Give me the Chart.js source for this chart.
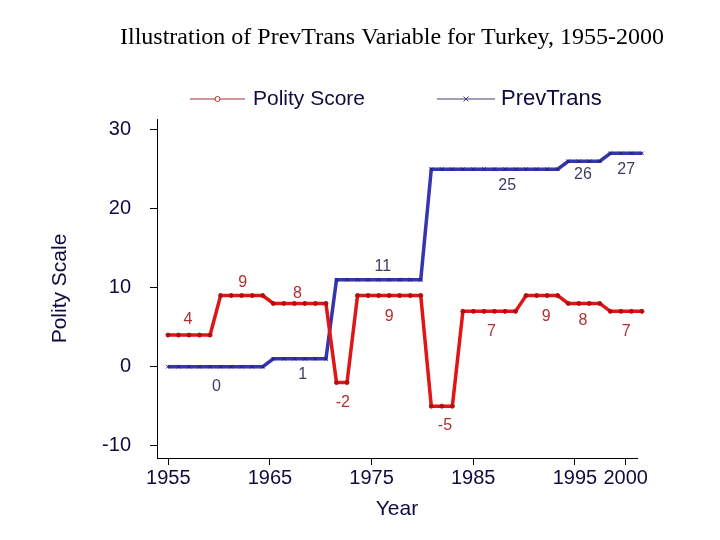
<!DOCTYPE html>
<html>
<head>
<meta charset="utf-8">
<script src="https://cdn.jsdelivr.net/npm/chart.js@4.4.1/dist/chart.umd.min.js"></script>
<style>
html,body{margin:0;padding:0;background:#fff;}
#wrap{width:720px;height:540px;}
</style>
</head>
<body>
<div id="wrap"><canvas id="c" width="720" height="540"></canvas></div>
<script>
// ---- data ----
const years = [1955,1956,1957,1958,1959,1960,1961,1962,1963,1964,1965,1966,1967,1968,1969,1970,
  1971,1972,1973,1974,1975,1976,1977,1978,1979,1980,1981,1982,1983,1984,1985,1986,1987,1988,
  1989,1990,1991,1992,1993,1994,1995,1996,1997,1998,1999,2000];
const polityScore = [4,4,4,4,4, 9,9,9,9,9, 8,8,8,8,8,8, -2,-2, 9,9,9,9,9,9,9, -5,-5,-5,
  7,7,7,7,7,7, 9,9,9,9, 8,8,8,8, 7,7,7,7];
const prevTrans = [0,0,0,0,0,0,0,0,0,0, 1,1,1,1,1,1, 11,11,11,11,11,11,11,11,11,
  25,25,25,25,25,25,25,25,25,25,25,25,25, 26,26,26,26, 27,27,27,27];
const xTickYears = [1955,1965,1975,1985,1995,2000];
const yTickValues = [-10,0,10,20,30];
const titleText = 'Illustration of PrevTrans Variable for Turkey, 1955-2000';
const seriesNames = ['Polity Score','PrevTrans'];
// value labels: [text, series index, year anchor, value anchor]
const valueLabels = [
  ['4',0,1956.9,5.9],['9',0,1962.1,10.6],['8',0,1967.3,9.2],['9',0,1976.0,6.3],
  ['-2',0,1971.6,-4.6],['-5',0,1981.3,-7.4],['7',0,1985.7,4.4],['9',0,1990.9,6.4],
  ['8',0,1994.4,5.8],['7',0,1998.5,4.4],
  ['0',1,1959.6,-2.5],['1',1,1967.8,-1.05],['11',1,1975.4,12.7],['25',1,1987.2,22.9],
  ['26',1,1994.4,24.3],['27',1,1998.5,24.9]
];

const RED = '#e01515', RED_DARK = '#b01010', RED_TXT = '#b03030';
const BLUE = '#3535b0', BLUE_DARK = '#202070', BLUE_TXT = '#3c3c66';
const NAVY = '#0c0c40';

const pts = (vals) => years.map((y,i)=>({x:y,y:vals[i]}));

const overlay = {
  id:'overlay',
  afterDraw(chart){
    const ctx = chart.ctx;
    const xs = chart.scales.xd, ys = chart.scales.y;
    ctx.save();
    // title
    ctx.fillStyle = '#000';
    ctx.font = '24px "Liberation Serif", "Times New Roman", serif';
    ctx.textAlign = 'center'; ctx.textBaseline = 'middle';
    ctx.fillText(titleText, 392, 38);
    // legend
    const items = [
      {x0:190,x1:245,tx:253,color:'#a83030',mark:'circle',name:seriesNames[0],size:21},
      {x0:437,x1:495,tx:501,color:'#40407a',mark:'cross',name:seriesNames[1],size:22}
    ];
    items.forEach(it=>{
      const y=99;
      ctx.strokeStyle=it.color; ctx.lineWidth=1;
      ctx.beginPath(); ctx.moveTo(it.x0,y); ctx.lineTo(it.x1,y); ctx.stroke();
      const mx=(it.x0+it.x1)/2;
      if(it.mark==='circle'){
        ctx.fillStyle='#fff'; ctx.beginPath(); ctx.arc(mx,y,2.5,0,Math.PI*2); ctx.fill(); ctx.stroke();
      } else {
        ctx.beginPath(); ctx.moveTo(mx-2.5,y-2.5); ctx.lineTo(mx+2.5,y+2.5);
        ctx.moveTo(mx-2.5,y+2.5); ctx.lineTo(mx+2.5,y-2.5); ctx.stroke();
      }
      ctx.fillStyle=NAVY; ctx.font=it.size+'px "Liberation Sans", Arial, sans-serif';
      ctx.textAlign='left'; ctx.textBaseline='middle';
      ctx.fillText(it.name, it.tx, y);
    });
    // value labels
    ctx.font='16px "Liberation Sans", Arial, sans-serif';
    ctx.textAlign='center'; ctx.textBaseline='middle';
    valueLabels.forEach(l=>{
      ctx.fillStyle = l[1]===0 ? RED_TXT : BLUE_TXT;
      ctx.fillText(l[0], xs.getPixelForValue(l[2]), ys.getPixelForValue(l[3]));
    });
    ctx.restore();
  }
};

new Chart(document.getElementById('c'), {
  type:'line',
  data:{
    datasets:[
      {label:seriesNames[0], data:pts(polityScore), xAxisID:'xd', yAxisID:'y',
       borderColor:RED, borderWidth:3.5, pointStyle:'circle', pointRadius:2,
       pointBackgroundColor:RED_DARK, pointBorderColor:RED_DARK, pointBorderWidth:1,
       tension:0, clip:false, order:1},
      {label:seriesNames[1], data:pts(prevTrans), xAxisID:'xd', yAxisID:'y',
       borderColor:BLUE, borderWidth:3.5, pointStyle:'crossRot', pointRadius:2.5,
       pointBorderColor:BLUE_DARK, pointBackgroundColor:BLUE_DARK, pointBorderWidth:1,
       tension:0, clip:false, order:2}
    ]
  },
  options:{
    responsive:false, animation:false,
    layout:{padding:{left:48,top:119,right:83,bottom:0}},
    plugins:{legend:{display:false}, title:{display:false}, tooltip:{enabled:false}},
    scales:{
      xd:{type:'linear', display:false, min:1953.96, max:1999.53},
      x:{type:'linear', position:'bottom', min:1953.89, max:2001.11,
         afterBuildTicks:(s)=>{s.ticks = xTickYears.map(v=>({value:v}));},
         afterFit:(s)=>{s.height = 82;},
         grid:{drawOnChartArea:false, drawTicks:true, tickLength:7, color:'#000', lineWidth:1},
         border:{display:true, color:'#000', width:1},
         ticks:{color:NAVY, font:{size:20, family:'"Liberation Sans", Arial, sans-serif'}, padding:1,
                maxRotation:0, autoSkip:false, callback:(v)=>String(v)},
         title:{display:true, text:'Year', color:NAVY, padding:{top:0,bottom:18},
                font:{size:21, family:'"Liberation Sans", Arial, sans-serif'}}},
      y:{type:'linear', position:'left', min:-11.56, max:31.35,
         afterBuildTicks:(s)=>{s.ticks = yTickValues.map(v=>({value:v}));},
         afterFit:(s)=>{s.width = 109;},
         grid:{drawOnChartArea:false, drawTicks:true, tickLength:7, color:'#000', lineWidth:1},
         border:{display:true, color:'#000', width:1},
         ticks:{color:NAVY, font:{size:20, family:'"Liberation Sans", Arial, sans-serif'}, padding:19,
                callback:(v)=>String(v)},
         title:{display:true, text:'Polity Scale', color:NAVY, padding:{top:0,bottom:0},
                font:{size:21, family:'"Liberation Sans", Arial, sans-serif'}}}
    }
  },
  plugins:[overlay]
});
</script>
</body>
</html>
